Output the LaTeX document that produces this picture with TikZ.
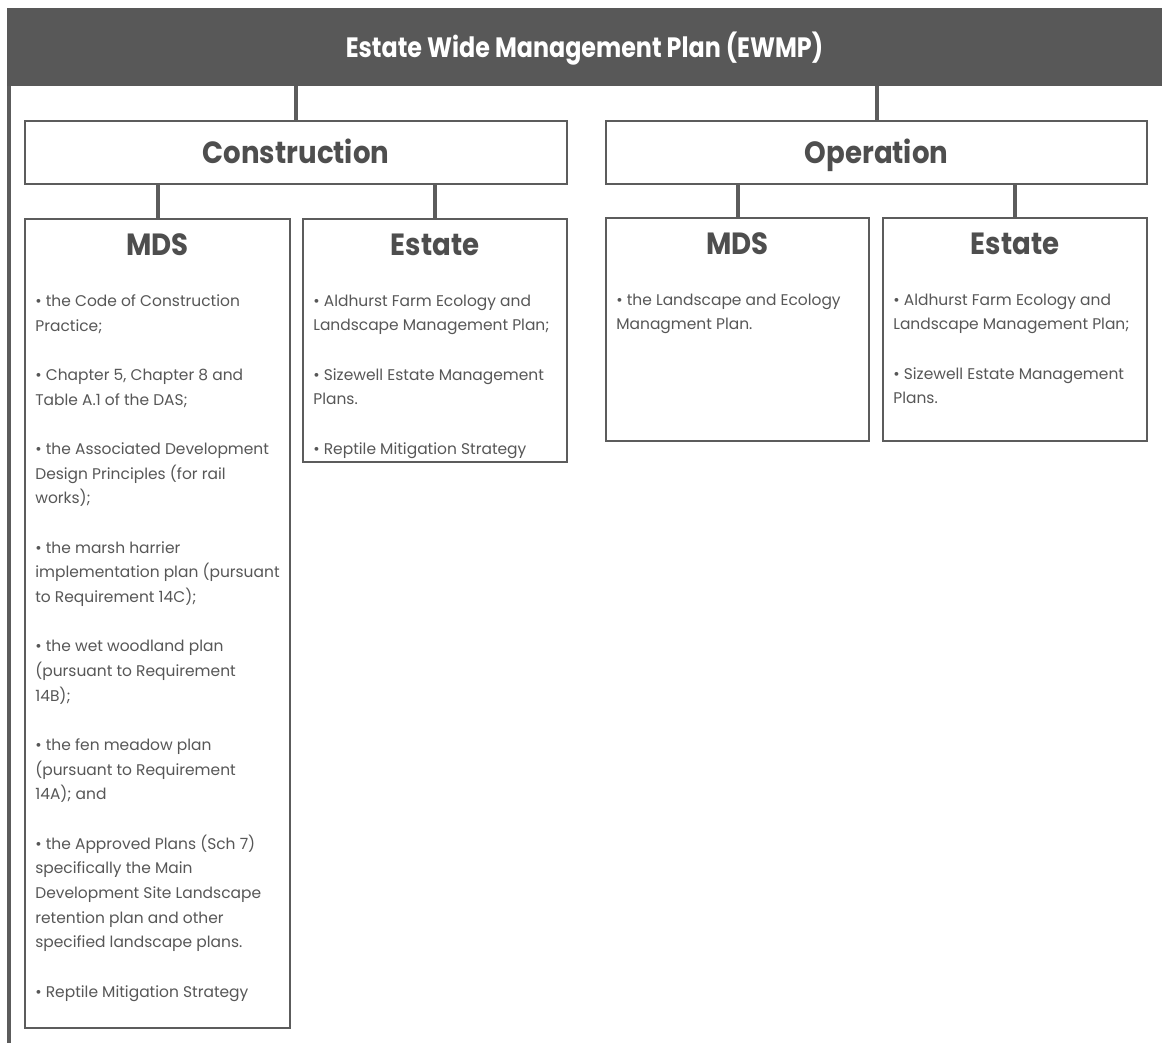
\documentclass[tikz,border=0pt]{standalone}
\usepackage{fontspec}
\setmainfont{Poppins}
\newfontfamily\bannerfont{Poppins}[FakeStretch=0.85]
\newfontfamily\headfont{Poppins}[FakeStretch=0.9]
\usepackage{xcolor}
\definecolor{hdrgray}{HTML}{585858}
\definecolor{linegray}{HTML}{5C5C5C}
\definecolor{txtgray}{HTML}{575757}
\definecolor{headgray}{HTML}{4E4E4E}

\begin{document}
\begin{tikzpicture}[x=0.75pt,y=-0.75pt,
    planbox/.style={draw=linegray,line width=1.9pt,fill=white,inner sep=0pt},
    link/.style={draw=linegray,line width=3pt},
    phasetitle/.style={font=\headfont\bfseries\fontsize{23}{27}\selectfont,text=headgray,text height=17pt,text depth=0.5pt},
    plantitle/.style={font=\headfont\bfseries\fontsize{23}{27}\selectfont,text=headgray},
    items/.style={anchor=north west,align=left,inner sep=0pt,text=txtgray,font=\fontsize{11.6}{18.5}\selectfont}]
\useasboundingbox (0,0) rectangle (1162,1043);
\node[fill=hdrgray,inner sep=0pt,minimum width=1155*0.75pt,minimum height=78*0.75pt,
      font=\bannerfont\bfseries\fontsize{21}{25}\selectfont,text=white,text height=16pt,text depth=0pt] (ewmp) at (584.5,47) {Estate Wide Management Plan (EWMP)};
\node[planbox,minimum width=542*0.75pt,minimum height=63*0.75pt,phasetitle] (constr) at (296,152.5) {Construction};
\node[planbox,minimum width=541*0.75pt,minimum height=63*0.75pt,phasetitle] (oper) at (876.5,152.5) {Operation};
\node[planbox,minimum width=265*0.75pt,minimum height=809*0.75pt] (cmds) at (157.5,623.5) {};
\node[planbox,minimum width=264*0.75pt,minimum height=243*0.75pt] (cest) at (435,340.5) {};
\node[planbox,minimum width=263*0.75pt,minimum height=223*0.75pt] (omds) at (737.5,329.5) {};
\node[planbox,minimum width=264*0.75pt,minimum height=223*0.75pt] (oest) at (1015,329.5) {};
\coordinate (barend) at (9,1043);

\draw[link] (ewmp.south -| constr.north) -- (constr.north);
\draw[link] (ewmp.south -| oper.north) -- (oper.north);
\draw[link] (constr.south -| cmds.north) -- (cmds.north);
\draw[link] (constr.south -| cest.north) -- (cest.north);
\draw[link] (oper.south -| omds.north) -- (omds.north);
\draw[link] (oper.south -| oest.north) -- (oest.north);
\draw[link] (ewmp.south west -| barend) -- (barend);

\node[plantitle] (cmdshead) at ([yshift=-20.5pt]cmds.north) {MDS};
\node[plantitle] (cesthead) at ([yshift=-20.5pt]cest.north) {Estate};
\node[plantitle] (omdshead) at ([yshift=-20.5pt]omds.north) {MDS};
\node[plantitle] (oesthead) at ([yshift=-20.5pt]oest.north) {Estate};

\node[items] (cmdsitems) at ([xshift=8.5pt,yshift=-57.5pt]cmds.north west) {%
  • the Code of Construction\\Practice;\\[18.5pt]
  • Chapter 5, Chapter 8 and\\Table A.1 of the DAS;\\[18.5pt]
  • the Associated Development\\Design Principles (for rail\\works);\\[18.5pt]
  • the marsh harrier\\implementation plan (pursuant\\to Requirement 14C);\\[18.5pt]
  • the wet woodland plan\\(pursuant to Requirement\\14B);\\[18.5pt]
  • the fen meadow plan\\(pursuant to Requirement\\14A); and\\[18.5pt]
  • the Approved Plans (Sch 7)\\specifically the Main\\Development Site Landscape\\retention plan and other\\specified landscape plans.\\[18.5pt]
  • Reptile Mitigation Strategy};
\node[items] (cestitems) at ([xshift=8.5pt,yshift=-57.5pt]cest.north west) {%
  • Aldhurst Farm Ecology and\\Landscape Management Plan;\\[18.5pt]
  • Sizewell Estate Management\\Plans.\\[18.5pt]
  • Reptile Mitigation Strategy};
\node[items] (omdsitems) at ([xshift=8.5pt,yshift=-57.5pt]omds.north west) {%
  • the Landscape and Ecology\\Managment Plan.};
\node[items] (oestitems) at ([xshift=8.5pt,yshift=-57.5pt]oest.north west) {%
  • Aldhurst Farm Ecology and\\Landscape Management Plan;\\[18.5pt]
  • Sizewell Estate Management\\Plans.};
\end{tikzpicture}
\end{document}
